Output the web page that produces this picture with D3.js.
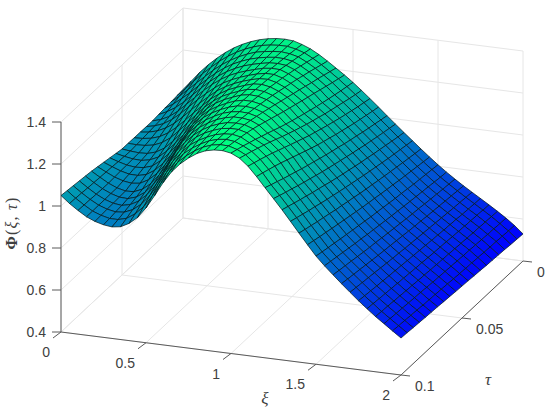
<!DOCTYPE html>
<html lang='en'>
  <head>
    <style type='text/css'>
      body {margin: 0; background-color: #fff;}
      svg {display: block;}
      text {font-family: 'Liberation Sans', sans-serif; fill: #404040;}
      .title {font-family: 'Liberation Serif', serif;}
    </style>
  </head>
  <body>
    <svg width='550' height='410'></svg>

    <script src='https://d3js.org/d3.v7.min.js'></script>
    <script type='text/javascript'>
        var xiValues = [0,.05,.1,.15,.2,.25,.3,.35,.4,.45,.5,.55,.6,.65,.7,.75,.8,.85,.9,.95,1,
                        1.05,1.1,1.15,1.2,1.25,1.3,1.35,1.4,1.45,1.5,1.55,1.6,1.65,1.7,1.75,1.8,1.85,1.9,1.95,2];
        var tauValues = [0,.005,.01,.015,.02,.025,.03,.035,.04,.045,.05,.055,.06,.065,.07,.075,.08,.085,.09,.095,.1];

        var xiTicks = [0, 0.5, 1, 1.5, 2];
        var xiTickLabels = ["0", "0.5", "1", "1.5", "2"];
        var tauTicks = [0, 0.05, 0.1];
        var tauTickLabels = ["0", "0.05", "0.1"];
        var zTicks = [0.4, 0.6, 0.8, 1, 1.2, 1.4];
        var zTickLabels = ["0.4", "0.6", "0.8", "1", "1.2", "1.4"];

        // one line per xi, values run along tau from 0 to 0.1
        var phi = [
          [1.012,1.009,1.006,1.004,1.001,.998,.998,.999,.999,1.000,1.000,1.006,1.012,1.018,1.024,1.030,1.034,1.038,1.042,1.046,1.050],
          [1.058,1.048,1.039,1.029,1.020,1.010,1.007,1.004,1.001,.998,.995,.997,.999,1.002,1.004,1.006,1.008,1.010,1.013,1.015,1.017],
          [1.105,1.090,1.075,1.060,1.045,1.030,1.022,1.015,1.007,1.000,.992,.990,.988,.987,.985,.983,.984,.985,.987,.988,.989],
          [1.146,1.129,1.112,1.094,1.077,1.060,1.047,1.034,1.020,1.007,.994,.988,.983,.977,.972,.966,.966,.965,.965,.964,.964],
          [1.182,1.165,1.148,1.132,1.115,1.098,1.080,1.061,1.043,1.024,1.006,.996,.986,.976,.966,.956,.954,.952,.951,.949,.947],
          [1.214,1.199,1.184,1.168,1.153,1.136,1.118,1.097,1.075,1.052,1.030,1.014,.999,.985,.971,.958,.952,.947,.943,.939,.936],
          [1.241,1.228,1.215,1.202,1.188,1.173,1.156,1.136,1.114,1.091,1.068,1.049,1.030,1.011,.993,.975,.965,.956,.947,.939,.931],
          [1.263,1.252,1.241,1.231,1.220,1.207,1.191,1.173,1.154,1.134,1.112,1.091,1.070,1.049,1.028,1.007,.992,.978,.964,.950,.937],
          [1.281,1.272,1.263,1.255,1.246,1.236,1.223,1.208,1.192,1.176,1.158,1.139,1.119,1.098,1.077,1.055,1.035,1.015,.995,.976,.958],
          [1.295,1.288,1.281,1.274,1.267,1.260,1.251,1.241,1.230,1.218,1.204,1.189,1.172,1.154,1.134,1.112,1.089,1.065,1.040,1.015,.991],
          [1.305,1.300,1.295,1.289,1.284,1.278,1.272,1.266,1.259,1.252,1.244,1.234,1.223,1.210,1.195,1.177,1.155,1.129,1.100,1.070,1.042],
          [1.311,1.307,1.303,1.300,1.296,1.292,1.289,1.286,1.283,1.279,1.274,1.268,1.260,1.250,1.238,1.224,1.207,1.187,1.163,1.135,1.105],
          [1.313,1.311,1.309,1.308,1.306,1.304,1.303,1.302,1.300,1.298,1.296,1.292,1.287,1.281,1.273,1.263,1.250,1.234,1.216,1.195,1.172],
          [1.310,1.311,1.312,1.313,1.314,1.315,1.315,1.315,1.315,1.314,1.313,1.311,1.308,1.304,1.299,1.293,1.285,1.275,1.262,1.247,1.229],
          [1.298,1.303,1.308,1.312,1.316,1.320,1.323,1.325,1.327,1.328,1.328,1.327,1.325,1.323,1.320,1.316,1.310,1.302,1.293,1.283,1.272],
          [1.282,1.290,1.298,1.305,1.312,1.319,1.323,1.327,1.330,1.333,1.335,1.336,1.336,1.335,1.334,1.332,1.328,1.323,1.318,1.312,1.305],
          [1.260,1.269,1.278,1.287,1.296,1.304,1.311,1.317,1.323,1.328,1.333,1.336,1.339,1.341,1.343,1.343,1.342,1.340,1.338,1.335,1.332],
          [1.234,1.244,1.254,1.264,1.273,1.283,1.291,1.299,1.307,1.315,1.322,1.328,1.334,1.339,1.343,1.346,1.348,1.349,1.350,1.350,1.350],
          [1.206,1.216,1.226,1.236,1.245,1.255,1.265,1.274,1.284,1.293,1.303,1.312,1.321,1.329,1.337,1.343,1.348,1.352,1.355,1.357,1.359],
          [1.178,1.187,1.196,1.206,1.216,1.226,1.235,1.245,1.255,1.265,1.275,1.286,1.297,1.308,1.319,1.329,1.337,1.344,1.350,1.356,1.361],
          [1.148,1.155,1.162,1.170,1.178,1.187,1.196,1.206,1.216,1.226,1.237,1.248,1.260,1.273,1.286,1.298,1.311,1.322,1.334,1.344,1.354],
          [1.115,1.122,1.130,1.139,1.148,1.157,1.166,1.177,1.187,1.198,1.210,1.222,1.235,1.248,1.262,1.276,1.289,1.301,1.313,1.324,1.335],
          [1.081,1.089,1.096,1.105,1.114,1.123,1.133,1.143,1.154,1.165,1.176,1.189,1.202,1.215,1.229,1.242,1.256,1.268,1.280,1.291,1.302],
          [1.046,1.053,1.061,1.069,1.077,1.086,1.096,1.105,1.116,1.126,1.137,1.149,1.162,1.175,1.188,1.201,1.214,1.226,1.237,1.248,1.258],
          [1.010,1.017,1.025,1.032,1.040,1.049,1.057,1.066,1.076,1.085,1.095,1.105,1.116,1.126,1.137,1.149,1.160,1.172,1.185,1.197,1.210],
          [.975,.982,.989,.996,1.004,1.011,1.020,1.028,1.037,1.046,1.055,1.064,1.074,1.084,1.095,1.105,1.116,1.128,1.139,1.151,1.163],
          [.940,.946,.953,.960,.967,.974,.982,.989,.997,1.006,1.014,1.023,1.032,1.042,1.052,1.061,1.072,1.082,1.093,1.104,1.115],
          [.906,.912,.918,.924,.930,.937,.944,.951,.958,.966,.974,.982,.990,.999,1.007,1.016,1.026,1.035,1.045,1.055,1.065],
          [.872,.877,.882,.888,.894,.900,.906,.912,.919,.925,.932,.940,.947,.955,.962,.971,.979,.987,.996,1.005,1.014],
          [.839,.843,.848,.853,.858,.863,.869,.874,.880,.886,.892,.898,.905,.912,.919,.926,.933,.941,.948,.956,.964],
          [.807,.811,.815,.819,.823,.828,.833,.837,.842,.848,.853,.858,.864,.870,.876,.882,.888,.895,.901,.908,.915],
          [.777,.780,.784,.788,.792,.796,.800,.804,.809,.813,.818,.823,.828,.833,.839,.844,.850,.856,.862,.868,.874],
          [.749,.752,.755,.759,.762,.766,.770,.773,.777,.782,.786,.790,.795,.800,.804,.809,.814,.820,.825,.830,.836],
          [.722,.725,.728,.731,.734,.737,.740,.744,.747,.751,.755,.759,.763,.767,.771,.775,.780,.785,.789,.794,.799],
          [.697,.699,.702,.704,.707,.710,.713,.716,.719,.722,.725,.728,.732,.735,.739,.743,.747,.751,.755,.759,.763],
          [.672,.674,.676,.678,.681,.683,.685,.688,.690,.693,.696,.699,.702,.705,.708,.711,.714,.717,.721,.724,.728],
          [.647,.649,.651,.652,.654,.656,.658,.661,.663,.665,.667,.670,.672,.675,.678,.680,.683,.686,.689,.692,.695],
          [.621,.623,.624,.626,.627,.629,.631,.633,.635,.637,.639,.641,.643,.645,.648,.650,.653,.655,.658,.660,.663],
          [.594,.595,.597,.598,.600,.602,.604,.605,.607,.609,.611,.613,.615,.617,.620,.622,.624,.627,.629,.631,.634],
          [.564,.565,.567,.569,.570,.572,.574,.576,.577,.579,.581,.584,.586,.588,.590,.592,.595,.597,.600,.602,.605],
          [.529,.531,.533,.536,.538,.540,.542,.545,.547,.550,.552,.554,.557,.559,.562,.564,.566,.569,.571,.574,.576]
        ];

        var svg = d3.select("svg");

        // oblique projection of the MATLAB box, one scale per screen contribution
        var xiToX  = d3.scaleLinear().domain([0, 2]).range([61, 401]);
        var xiToY  = d3.scaleLinear().domain([0, 2]).range([0, 43]);
        var tauToX = d3.scaleLinear().domain([0.1, 0]).range([0, 122]);
        var tauToY = d3.scaleLinear().domain([0.1, 0]).range([332, 218]);
        var zToY   = d3.scaleLinear().domain([0.4, 1.4]).range([0, 210]);

        function px(xi, tau) { return xiToX(xi) + tauToX(tau); }
        function py(xi, tau, z) { return xiToY(xi) + tauToY(tau) - zToY(z); }

        function line3d(a, b, color) {
          svg.append("line")
            .attr("x1", px(a[0], a[1])).attr("y1", py(a[0], a[1], a[2]))
            .attr("x2", px(b[0], b[1])).attr("y2", py(b[0], b[1], b[2]))
            .attr("stroke", color)
            .attr("stroke-width", 1);
        }

        var gridColor = "#e6e6e6";
        var axisColor = "#5a5a5a";
        var tauFar = 0, tauNear = 0.1, zLow = 0.4, zHigh = 1.4;

        // grid on the floor and the two back walls
        xiTicks.forEach(function(d) {
          line3d([d, tauNear, zLow], [d, tauFar, zLow], gridColor);
          line3d([d, tauFar, zLow], [d, tauFar, zHigh], gridColor);
        });
        tauTicks.forEach(function(d) {
          line3d([0, d, zLow], [2, d, zLow], gridColor);
          line3d([0, d, zLow], [0, d, zHigh], gridColor);
        });
        zTicks.forEach(function(d) {
          line3d([0, tauNear, d], [0, tauFar, d], gridColor);
          line3d([0, tauFar, d], [2, tauFar, d], gridColor);
        });

        // axes in front of the grid
        line3d([0, tauNear, zLow], [0, tauNear, zHigh], axisColor);
        line3d([0, tauNear, zLow], [2, tauNear, zLow], axisColor);
        line3d([2, tauNear, zLow], [2, tauFar, zLow], axisColor);

        // winter colormap
        var zExtent = d3.extent(phi.flat());
        var color = d3.scaleLinear().domain(zExtent).range(["#0000ff", "#00ff80"]);

        // far rows first, low xi first, so the nearer panels paint over the others
        var panels = svg.append("g");
        tauValues.slice(0, -1).forEach(function(tau, j) {
          xiValues.slice(0, -1).forEach(function(xi, i) {
            var corners = [[i, j], [i + 1, j], [i + 1, j + 1], [i, j + 1]];
            var points = corners.map(function(c) {
              return [px(xiValues[c[0]], tauValues[c[1]]), py(xiValues[c[0]], tauValues[c[1]], phi[c[0]][c[1]])];
            });
            var mean = d3.mean(corners, function(c) { return phi[c[0]][c[1]]; });
            panels.append("path")
              .attr("d", "M" + points.join("L") + "Z")
              .attr("fill", color(mean))
              .attr("stroke", "#02181c")
              .attr("stroke-opacity", 0.85)
              .attr("stroke-width", 0.85)
              .attr("stroke-linejoin", "round");
          });
        });

        // z ticks
        zTicks.forEach(function(d, i) {
          var x = px(0, tauNear), y = py(0, tauNear, d);
          svg.append("line").attr("x1", x - 9).attr("y1", y).attr("x2", x).attr("y2", y)
            .attr("stroke", axisColor);
          svg.append("text").attr("x", x - 15).attr("y", y + 5)
            .attr("text-anchor", "end").attr("font-size", 14).text(zTickLabels[i]);
        });

        // xi ticks
        xiTicks.forEach(function(d, i) {
          var x = px(d, tauNear), y = py(d, tauNear, zLow);
          svg.append("line").attr("x1", x).attr("y1", y).attr("x2", x - 8).attr("y2", y + 6)
            .attr("stroke", axisColor);
          svg.append("text").attr("x", x - 11).attr("y", y + 25)
            .attr("text-anchor", "end").attr("font-size", 14).text(xiTickLabels[i]);
        });

        // tau ticks
        tauTicks.forEach(function(d, i) {
          var x = px(2, d), y = py(2, d, zLow);
          svg.append("line").attr("x1", x).attr("y1", y).attr("x2", x + 9).attr("y2", y + 1)
            .attr("stroke", axisColor);
          svg.append("text").attr("x", x + 14).attr("y", y + 16)
            .attr("text-anchor", "start").attr("font-size", 14).text(tauTickLabels[i]);
        });

        // axis titles
        svg.append("text").attr("class", "title").attr("x", 265).attr("y", 404)
          .attr("text-anchor", "middle").attr("font-size", 17).attr("font-style", "italic").text("ξ");
        svg.append("text").attr("class", "title").attr("x", 488).attr("y", 385)
          .attr("text-anchor", "middle").attr("font-size", 17).attr("font-style", "italic").text("τ");

        var zTitle = svg.append("text").attr("class", "title")
          .attr("transform", "translate(17,223) rotate(-90)")
          .attr("text-anchor", "middle").attr("font-size", 16).attr("letter-spacing", 1.2);
        zTitle.append("tspan").attr("font-weight", "bold").text("Φ");
        zTitle.append("tspan").text("(");
        zTitle.append("tspan").attr("font-style", "italic").text("ξ");
        zTitle.append("tspan").text(", ");
        zTitle.append("tspan").attr("font-style", "italic").text("τ");
        zTitle.append("tspan").text(")");
    </script>
  </body>
</html>
